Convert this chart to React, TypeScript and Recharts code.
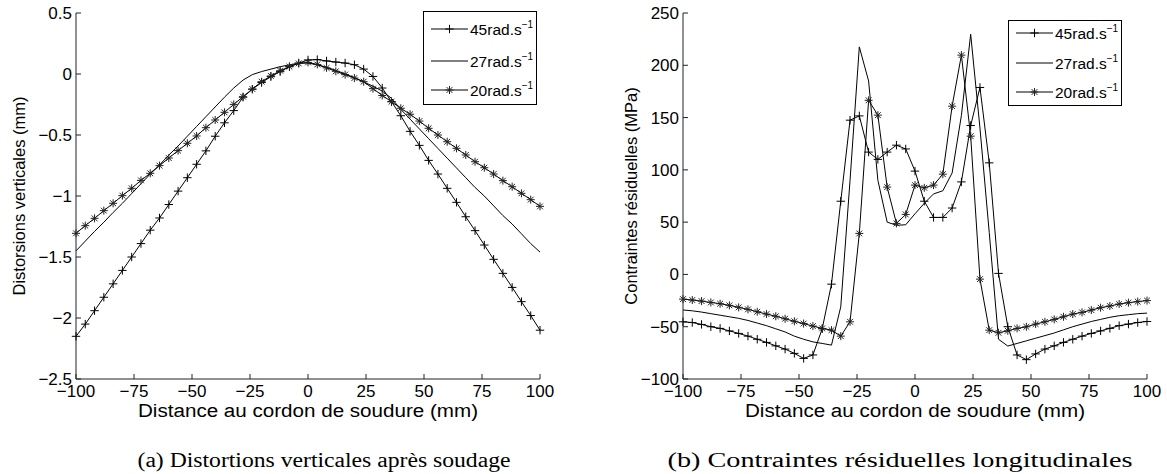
import React from 'react';
import { LineChart, Line, XAxis, YAxis, Legend } from 'recharts';

// Distance to the weld bead (mm)
const positionsMm = [
  -100, -96, -92, -88, -84, -80, -76, -72, -68, -64,
  -60, -56, -52, -48, -44, -40, -36, -32, -28, -24,
  -20, -16, -12, -8, -4, 0, 4, 8, 12, 16,
  20, 24, 28, 32, 36, 40, 44, 48, 52, 56,
  60, 64, 68, 72, 76, 80, 84, 88, 92, 96, 100,
];

// (a) vertical distortion (mm)
const distortion45 = [
  -2.15, -2.05, -1.94, -1.83, -1.72, -1.61, -1.5, -1.39, -1.28, -1.18,
  -1.07, -0.96, -0.85, -0.74, -0.63, -0.51, -0.4, -0.3, -0.19, -0.125,
  -0.07, -0.022, 0.019, 0.06, 0.09, 0.115, 0.118, 0.107, 0.098, 0.09,
  0.076, 0.04, -0.02, -0.115, -0.227, -0.342, -0.47, -0.585, -0.708, -0.82,
  -0.937, -1.052, -1.17, -1.284, -1.402, -1.519, -1.634, -1.749, -1.866, -1.98, -2.1,
];
const distortion27 = [
  -1.45, -1.37, -1.29, -1.215, -1.135, -1.06, -0.98, -0.9, -0.82, -0.745,
  -0.665, -0.59, -0.51, -0.43, -0.35, -0.27, -0.19, -0.115, -0.05, -0.005,
  0.02, 0.04, 0.06, 0.075, 0.088, 0.09, 0.075, 0.055, 0.03, 0.0,
  -0.03, -0.065, -0.1, -0.14, -0.2, -0.29, -0.37, -0.45, -0.53, -0.61,
  -0.69, -0.77, -0.85, -0.93, -1.0, -1.08, -1.16, -1.23, -1.31, -1.39, -1.46,
];
const distortion20 = [
  -1.306, -1.243, -1.183, -1.12, -1.06, -0.997, -0.937, -0.872, -0.814, -0.751,
  -0.689, -0.628, -0.568, -0.508, -0.44, -0.377, -0.314, -0.249, -0.186, -0.123,
  -0.063, -0.016, 0.027, 0.06, 0.087, 0.095, 0.078, 0.05, 0.022, -0.005,
  -0.033, -0.063, -0.12, -0.176, -0.227, -0.281, -0.33, -0.386, -0.445, -0.5,
  -0.555, -0.609, -0.664, -0.719, -0.768, -0.82, -0.874, -0.924, -0.978, -1.03, -1.085,
];

// (b) longitudinal residual stress (MPa)
const stress45 = [
  -45.3, -46, -47.8, -50, -51.6, -54, -56.4, -59, -62, -65,
  -68.3, -71.4, -75.5, -80.3, -77, -52, -9.3, 70, 147.5, 151.6,
  117, 110, 117, 123.6, 120, 98.8, 70, 54.5, 54.5, 63.5,
  88.5, 142.4, 178.8, 106.7, 1, -50, -77, -81.5, -76, -71.4,
  -68.3, -65, -62, -59, -56.4, -54, -51.6, -49, -47.5, -46, -45,
];
const stress27 = [
  -34, -34.8, -36, -37.5, -39, -40.5, -42, -44, -46.5, -49,
  -52, -55, -59, -62, -64.5, -66, -67.6, -31, 90, 217.6,
  185, 90, 50, 47, 47.5, 58, 68, 77, 80, 97,
  152, 229.7, 140, 40, -62, -68.5, -66, -63.5, -61, -58.5,
  -56, -53, -50, -47.5, -45, -43, -41, -39.5, -38.5, -37.5, -37,
];
const stress20 = [
  -23.6, -24.5, -25.5, -26.8, -28, -29.6, -31.5, -33.4, -35.7, -37.9,
  -40, -42.4, -44.8, -47, -49.4, -51.6, -53.3, -59, -45.3, 39.2,
  166.5, 152.3, 83.5, 48.8, 57.4, 85.4, 82.8, 85.4, 95.9, 160.9,
  209.7, 132.2, -4.5, -53.3, -55.8, -53.9, -51.6, -50.1, -47.5, -45.3,
  -43, -40.5, -37.9, -36.3, -34.1, -31.8, -30.2, -28.3, -27, -26, -25,
];

const xTicks = [-100, -75, -50, -25, 0, 25, 50, 75, 100];
const distortionTicks = [0.5, 0, -0.5, -1, -1.5, -2, -2.5];
const stressTicks = [250, 200, 150, 100, 50, 0, -50, -100];
const speedLabels = ['45', '27', '20'];

const xAxisTitle = 'Distance au cordon de soudure (mm)';
const distortionTitle = 'Distorsions verticales (mm)';
const stressTitle = 'Contraintes résiduelles (MPa)';
const captionA = '(a)  Distortions verticales après soudage';
const captionB = '(b)  Contraintes résiduelles longitudinales';

const distortionRows = positionsMm.map((x, i) => ({
  x,
  s45: distortion45[i],
  s27: distortion27[i],
  s20: distortion20[i],
}));
const stressRows = positionsMm.map((x, i) => ({
  x,
  s45: stress45[i],
  s27: stress27[i],
  s20: stress20[i],
}));

const FONT = '"Liberation Sans", Arial, Helvetica, sans-serif';
const SERIF = '"Liberation Serif", "Times New Roman", serif';
const INK = '#000';

const fmt = (v: number) => (v < 0 ? '\u2212' + String(-v) : String(v));

const plusPath = (cx: number, cy: number, r: number) =>
  `M${cx - r},${cy}H${cx + r}M${cx},${cy - r}V${cy + r}`;
const starPath = (cx: number, cy: number, r: number) => {
  const d = r * 0.72;
  return `${plusPath(cx, cy, r)}M${cx - d},${cy - d}L${cx + d},${cy + d}M${cx - d},${cy + d}L${cx + d},${cy - d}`;
};

const PlusDot = (props: any) => {
  const { cx, cy, index } = props;
  if (cx == null || cy == null) return <g key={`p${index}`} />;
  return <path key={`p${index}`} d={plusPath(cx, cy, 4.2)} stroke={INK} strokeWidth={1} fill="none" />;
};
const StarDot = (props: any) => {
  const { cx, cy, index } = props;
  if (cx == null || cy == null) return <g key={`s${index}`} />;
  return <path key={`s${index}`} d={starPath(cx, cy, 4)} stroke="#222" strokeWidth={1} fill="none" />;
};

const LegendBox = ({ h, rows }: { h: number; rows: number[] }) => {
  const w = 114;
  return (
    <svg width={w} height={h} style={{ display: 'block' }}>
      <rect x={0.5} y={0.5} width={w - 1} height={h - 1} fill="#fff" stroke={INK} strokeWidth={1} />
      {speedLabels.map((s, i) => {
        const y = rows[i];
        return (
          <g key={s}>
            <line x1={8} x2={45} y1={y} y2={y} stroke={INK} strokeWidth={1} />
            {i === 0 && <path d={plusPath(26.5, y, 4.2)} stroke={INK} strokeWidth={1} fill="none" />}
            {i === 2 && <path d={starPath(26.5, y, 4)} stroke="#222" strokeWidth={1} fill="none" />}
            <text x={47} y={y + 6} fontFamily={FONT} fontSize={15.5} fill={INK}>
              {s}rad.s
              <tspan fontSize={10} dy={-7}>{'\u2212'}1</tspan>
            </text>
          </g>
        );
      })}
    </svg>
  );
};

type PanelProps = {
  data: any[];
  width: number;
  yWidth: number;
  rightMargin: number;
  domain: [number, number];
  yTicks: number[];
  legendLeft: number;
  legendTop: number;
  legendH: number;
  legendRows: number[];
};

const Panel = (p: PanelProps) => (
  <LineChart
    width={p.width}
    height={474}
    data={p.data}
    margin={{ top: 13, right: p.rightMargin, left: 0, bottom: 0 }}
  >
    <XAxis
      dataKey="x"
      type="number"
      domain={[-100, 100]}
      ticks={xTicks}
      tickFormatter={fmt}
      height={95}
      axisLine={{ stroke: '#222', strokeWidth: 1 }}
      tickLine={{ stroke: '#222', strokeWidth: 1 }}
      tickSize={-5}
      tickMargin={11}
      tick={{ fill: INK, fontSize: 17, fontFamily: FONT }}
      interval={0}
    />
    <YAxis
      type="number"
      domain={p.domain}
      ticks={p.yTicks}
      tickFormatter={fmt}
      width={p.yWidth}
      allowDataOverflow
      axisLine={{ stroke: '#222', strokeWidth: 1 }}
      tickLine={{ stroke: '#222', strokeWidth: 1 }}
      tickSize={-5}
      tickMargin={9}
      tick={{ fill: INK, fontSize: 17, fontFamily: FONT }}
      interval={0}
    />
    <Line type="linear" dataKey="s45" stroke={INK} strokeWidth={1} dot={PlusDot} activeDot={false} isAnimationActive={false} />
    <Line type="linear" dataKey="s27" stroke={INK} strokeWidth={1} dot={false} activeDot={false} isAnimationActive={false} />
    <Line type="linear" dataKey="s20" stroke={INK} strokeWidth={1} dot={StarDot} activeDot={false} isAnimationActive={false} />
    <Legend
      layout="vertical"
      align="center"
      verticalAlign="middle"
      wrapperStyle={{ left: p.legendLeft, top: p.legendTop, width: 114, height: p.legendH, margin: 0, padding: 0 }}
      content={() => <LegendBox h={p.legendH} rows={p.legendRows} />}
    />
  </LineChart>
);

export default function App() {
  return (
    <div style={{ position: 'absolute', left: 0, top: 0, width: 1167, height: 474, background: '#fff', overflow: 'hidden' }}>
      <div style={{ position: 'absolute', left: 0, top: 0 }}>
        <Panel
          data={distortionRows}
          width={580}
          yWidth={76}
          rightMargin={40}
          domain={[-2.5, 0.5]}
          yTicks={distortionTicks}
          legendLeft={423}
          legendTop={11}
          legendH={94}
          legendRows={[18, 50, 79]}
        />
      </div>
      <div style={{ position: 'absolute', left: 600, top: 0 }}>
        <Panel
          data={stressRows}
          width={567}
          yWidth={83}
          rightMargin={20}
          domain={[-100, 250]}
          yTicks={stressTicks}
          legendLeft={408}
          legendTop={20}
          legendH={86}
          legendRows={[13, 43, 72]}
        />
      </div>
      <svg width={1167} height={474} style={{ position: 'absolute', left: 0, top: 0, pointerEvents: 'none' }}>
        <text x={25} y={196} transform="rotate(-90 25 196)" textAnchor="middle" fontFamily={FONT} fontSize={16.5} fill={INK}>
          {distortionTitle}
        </text>
        <text x={637} y={196} transform="rotate(-90 637 196)" textAnchor="middle" fontFamily={FONT} fontSize={16.5} fill={INK}>
          {stressTitle}
        </text>
        <text x={308} y={417} textAnchor="middle" fontFamily={FONT} fontSize={18} fill={INK} textLength={340} lengthAdjust="spacingAndGlyphs">
          {xAxisTitle}
        </text>
        <text x={915} y={417} textAnchor="middle" fontFamily={FONT} fontSize={18} fill={INK} textLength={340} lengthAdjust="spacingAndGlyphs">
          {xAxisTitle}
        </text>
        <text x={324} y={467} textAnchor="middle" fontFamily={SERIF} fontSize={20} fill={INK} textLength={373} lengthAdjust="spacingAndGlyphs">
          {captionA}
        </text>
        <text x={900} y={467} textAnchor="middle" fontFamily={SERIF} fontSize={20} fill={INK} textLength={465} lengthAdjust="spacingAndGlyphs">
          {captionB}
        </text>
      </svg>
    </div>
  );
}
